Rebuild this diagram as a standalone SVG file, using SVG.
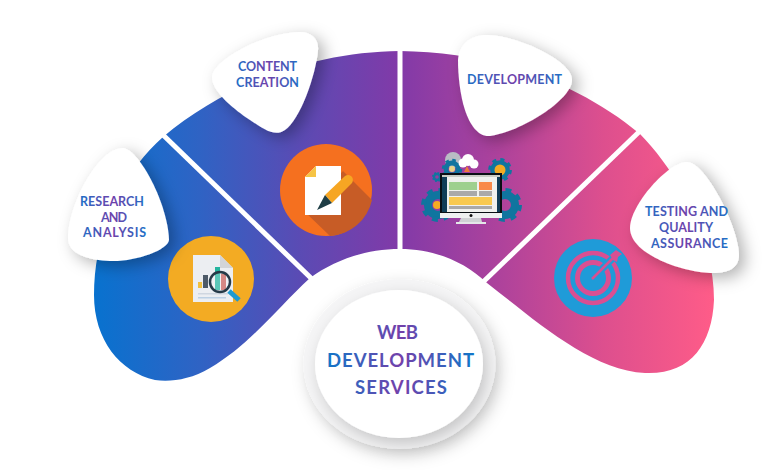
<svg xmlns="http://www.w3.org/2000/svg" width="780" height="470" viewBox="0 0 780 470">
<style>
.t{font-family:"Lato","Liberation Sans",sans-serif;font-weight:700}
.s{font-size:12.5px}
.b{font-size:18.5px}
.sep{stroke:#fff;stroke-width:5;fill:none}
.blob{fill:#fff;filter:url(#sh)}
.gr{fill:none;stroke:#10759f}
</style>
<defs>
<linearGradient id="main" gradientUnits="userSpaceOnUse" x1="94" y1="0" x2="715" y2="0">
<stop offset="0" stop-color="#0872cf"/><stop offset=".17" stop-color="#2f63c4"/><stop offset=".33" stop-color="#5a4bb4"/><stop offset=".49" stop-color="#813aa8"/><stop offset=".65" stop-color="#ad429c"/><stop offset=".82" stop-color="#dd4f8e"/><stop offset="1" stop-color="#ff5c88"/>
</linearGradient>
<linearGradient id="g1" gradientUnits="userSpaceOnUse" x1="80" y1="0" x2="146" y2="0"><stop offset="0" stop-color="#1f70c6"/><stop offset=".5" stop-color="#6f40aa"/><stop offset="1" stop-color="#1f70c6"/></linearGradient>
<linearGradient id="g2" gradientUnits="userSpaceOnUse" x1="236" y1="0" x2="300" y2="0"><stop offset="0" stop-color="#1f70c6"/><stop offset=".5" stop-color="#6f40aa"/><stop offset="1" stop-color="#1f70c6"/></linearGradient>
<linearGradient id="g3" gradientUnits="userSpaceOnUse" x1="467" y1="0" x2="562" y2="0"><stop offset="0" stop-color="#1f70c6"/><stop offset=".5" stop-color="#6f40aa"/><stop offset="1" stop-color="#1f70c6"/></linearGradient>
<linearGradient id="g4" gradientUnits="userSpaceOnUse" x1="645" y1="0" x2="728" y2="0"><stop offset="0" stop-color="#1f70c6"/><stop offset=".5" stop-color="#6f40aa"/><stop offset="1" stop-color="#1f70c6"/></linearGradient>
<linearGradient id="g5" gradientUnits="userSpaceOnUse" x1="327" y1="0" x2="474" y2="0"><stop offset="0" stop-color="#1176c8"/><stop offset=".5" stop-color="#7340aa"/><stop offset="1" stop-color="#1176c8"/></linearGradient>
<filter id="sh" x="-40%" y="-40%" width="190%" height="190%"><feDropShadow dx="6" dy="5" stdDeviation="8" flood-color="#000" flood-opacity=".3"/></filter>
<filter id="sc" x="-30%" y="-30%" width="160%" height="160%"><feDropShadow dx="4" dy="6" stdDeviation="8" flood-color="#000" flood-opacity=".2"/></filter>
<g id="gear"><circle r="10" class="gr" stroke-width="8"/><circle r="14.5" class="gr" stroke-width="5" stroke-dasharray="5.7 5.69"/></g>
</defs>
<g id="band">
<path fill="url(#main)" d="M94,295 C94,240 115,180 163,137 C225,85 310,52 400,51 C490,52 575,80 640,134 C680,175 714,240 714,300 C712,345 690,375 645,373 C590,370 535,320 487,283 C465,262 435,249 400,249 C365,249 335,260 310,278 C280,305 250,345 210,368 C190,380 170,382 155,380 C120,372 94,340 94,295 Z"/>
</g>
<g id="connectors">
<line class="sep" x1="160" y1="132" x2="314" y2="281"/>
<line class="sep" x1="400" y1="45" x2="400" y2="252"/>
<line class="sep" x1="641" y1="130" x2="481" y2="284"/>
</g>
<g id="icon-research">
<circle cx="211" cy="279" r="43" fill="#f3ab23"/>
<path d="M193,255 H220 L233,268 V302 H193 Z" fill="#eceef2"/>
<path d="M220,255 L233,268 H220 Z" fill="#d2d4d8"/>
<rect x="198" y="282" width="4" height="6" fill="#f0c040"/><rect x="203" y="275" width="5" height="13" fill="#4d5a68"/>
<rect x="198" y="293" width="30" height="1.500" fill="#cfd6e0"/><rect x="198" y="297" width="28" height="1.500" fill="#bcd0e4"/>
<rect x="215" y="267" width="5" height="23" fill="#25b5a0"/><rect x="221" y="274" width="5" height="16" fill="#c8605c"/>
<line x1="229" y1="291" x2="239" y2="300" stroke="#1e9ad0" stroke-width="5"/>
<circle cx="220" cy="282" r="10" fill="#fff" fill-opacity=".25" stroke="#263a48" stroke-width="2.500"/>
</g>
<g id="icon-content">
<circle cx="326" cy="190" r="46" fill="#f5701f"/>
<path d="M343,171 L372,200 A46,46 0 0 1 330,236 L305,212 Z" fill="#c75c26"/>
<path d="M316,166 H341 V215 H305 V177 Z" fill="#fff"/>
<path d="M316,166 V177 H305 Z" fill="#f6c445"/>
<path d="M325,195 L345,176 C350,173 355,178 352,183 L332,203 Z" fill="#f6a623"/>
<path d="M325,195 L332,203 L317,210 Z" fill="#1f3e46"/>
</g>
<g id="icon-development">
<circle cx="453" cy="160" r="8" fill="#b9bcc4"/>
<use href="#gear" transform="translate(452 169) scale(.6)"/>
<circle cx="452" cy="169" r="3" fill="#e8d48a"/>
<use href="#gear" transform="translate(500 170) scale(.7)"/>
<circle cx="500" cy="170" r="5.500" fill="#f3ab23"/>
<use href="#gear" transform="translate(437 177) scale(.3)"/>
<use href="#gear" transform="translate(438 205)"/>
<circle cx="437" cy="205" r="4" fill="#f3ab23"/>
<use href="#gear" transform="translate(505 205)"/>
<path d="M467,166 L470,172 H464 Z" fill="#f0793a"/>
<circle cx="463" cy="163" r="4.500" fill="#fff"/><circle cx="468" cy="160" r="6" fill="#fff"/><circle cx="474" cy="164" r="4.500" fill="#fff"/>
<rect x="440" y="173" width="62" height="40" fill="#0a0f14"/>
<rect x="442" y="176" width="58" height="36" fill="#103d57"/>
<rect x="447" y="176" width="50" height="36" fill="#f0f1ee"/>
<rect x="442" y="175" width="58" height="2" fill="#c9ccc4"/>
<rect x="449" y="182" width="28" height="8" fill="#9ed08e"/><rect x="479" y="182" width="13" height="8" fill="#f98a4a"/>
<rect x="449" y="191" width="28" height="5" fill="#a9a9a9"/><rect x="479" y="191" width="13" height="5" fill="#a9a9a9"/>
<rect x="449" y="197" width="43" height="8" fill="#f8c94f"/>
<rect x="449" y="206" width="43" height="3" fill="#a9a9a9"/>
<rect x="440" y="213" width="62" height="5" fill="#eef0f0"/><circle cx="471" cy="215.500" r="1.500" fill="#111"/>
<path d="M461,218 H481 L482,222 H459 Z" fill="#cfd2d4"/><rect x="456" y="222" width="30" height="2" fill="#e4e6e8"/>
</g>
<g id="icon-testing">
<circle cx="593" cy="278" r="39" fill="#1f9bd8"/>
<circle cx="593" cy="278" r="25" fill="none" stroke="#d94f92" stroke-width="4.500"/>
<circle cx="593" cy="278" r="15.500" fill="none" stroke="#d94f92" stroke-width="5"/>
<line x1="597" y1="274" x2="618" y2="253" stroke="#1f9bd8" stroke-width="7"/>
<line x1="592" y1="279" x2="615" y2="256" stroke="#d94f92" stroke-width="2.500"/>
<path d="M610,255 L616,250 L622,254 L618,257 L617,262 L613,260 Z" fill="#d94f92"/>
</g>
<g id="node-research">
<path class="blob" d="M123,148 C140,150 168,205 169,240 C168,250 135,262 110,261 C90,260 68,255 68,238 C68,205 98,148 123,148 Z"/>
<text class="t s" fill="url(#g1)" x="80" y="206" textLength="64">RESEARCH</text>
<text class="t s" fill="url(#g1)" x="101" y="222" textLength="26">AND</text>
<text class="t s" fill="url(#g1)" x="83" y="237" textLength="63">ANALYSIS</text>
</g>
<g id="node-content">
<path class="blob" d="M300,32 C312,32 319,40 318,50 C316,75 300,120 285,130 C275,137 265,130 250,120 C235,110 212,92 212,77 C212,62 260,33 300,32 Z"/>
<text class="t s" fill="url(#g2)" x="238" y="71" textLength="59">CONTENT</text>
<text class="t s" fill="url(#g2)" x="236" y="87" textLength="63">CREATION</text>
</g>
<g id="node-development">
<path class="blob" d="M487,35 C515,35 572,60 572,80 C572,100 520,132 490,136 C478,137 470,125 465,110 C460,95 458,75 458,60 C459,45 470,35 487,35 Z"/>
<text class="t s" fill="url(#g3)" x="467" y="84" textLength="95">DEVELOPMENT</text>
</g>
<g id="node-testing">
<path class="blob" d="M687,162 C705,162 738,225 739,255 C739,268 728,273 713,273 C685,273 630,255 630,228 C630,205 668,162 687,162 Z"/>
<text class="t s" fill="url(#g4)" x="645" y="216" textLength="83">TESTING AND</text>
<text class="t s" fill="url(#g4)" x="659" y="232" textLength="54">QUALITY</text>
<text class="t s" fill="url(#g4)" x="651" y="248" textLength="77">ASSURANCE</text>
</g>
<g id="node-center">
<ellipse cx="399.500" cy="364" rx="96" ry="85" fill="#f5f5f6" filter="url(#sc)"/>
<ellipse cx="399" cy="364" rx="84" ry="74" fill="#fff" filter="url(#sc)"/>
<text class="t b" fill="url(#g5)" x="377" y="339" textLength="41">WEB</text>
<text class="t b" fill="url(#g5)" x="327" y="367" textLength="147">DEVELOPMENT</text>
<text class="t b" fill="url(#g5)" x="355" y="394" textLength="92">SERVICES</text>
</g>
</svg>
